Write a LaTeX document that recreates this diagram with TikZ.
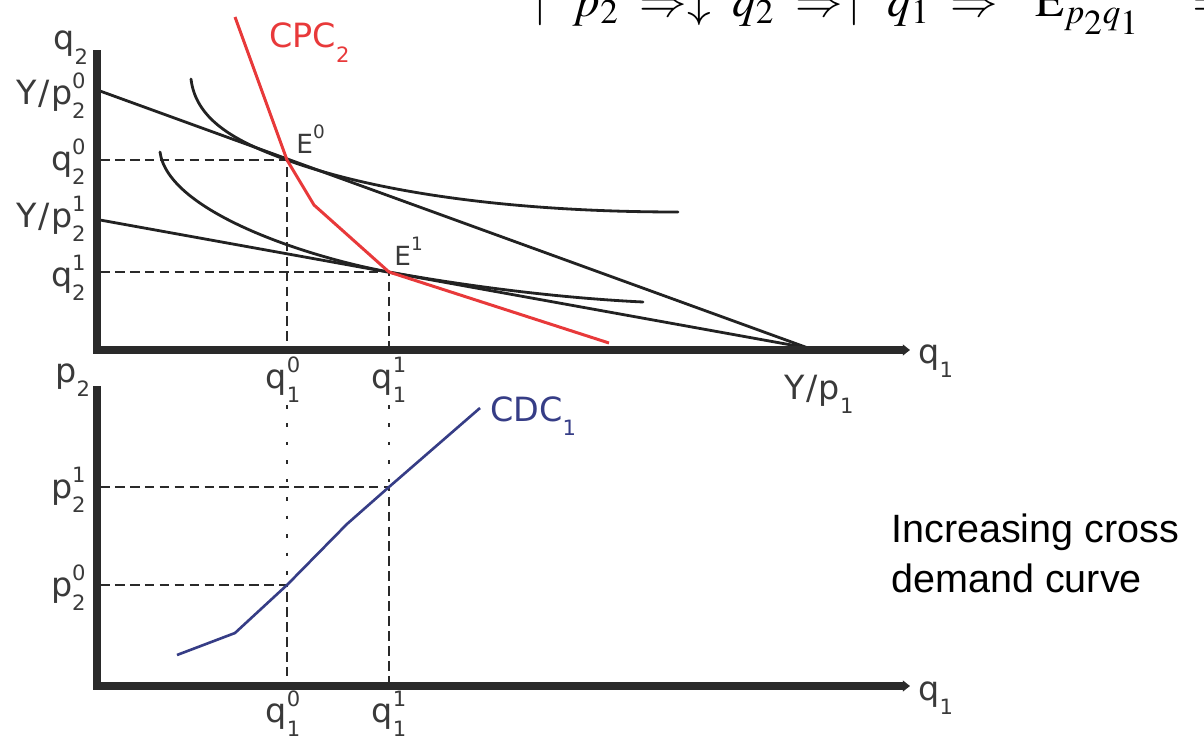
\documentclass[tikz,border=0pt]{standalone}
\usepackage{mathptmx}
\usepackage[no-math]{fontspec}
\setmainfont{DejaVu Sans}
\newfontfamily\arialf{Liberation Sans}
\usetikzlibrary{arrows.meta}
\definecolor{axisc}{HTML}{2A2A2A}
\definecolor{curvec}{HTML}{222222}
\definecolor{labc}{HTML}{3A3A3A}
\definecolor{redc}{HTML}{E8393A}
\definecolor{bluec}{HTML}{363D86}
\newcommand{\scr}[1]{{\fontsize{12}{12}\selectfont #1}}
\newcommand{\lbl}[3]{#1\rlap{\raisebox{0.45em}{\scr{#3}}}\raisebox{-0.42em}{\scr{#2}}}
\newcommand{\lsub}[2]{#1\raisebox{-0.42em}{\scr{#2}}}
\newcommand{\Yp}{Y\kern0.8pt/\kern0.8pt p}
\tikzset{
  axis/.style={draw=axisc, line width=4pt, line join=miter, -{Triangle[length=4pt,width=6pt]}},
  bline/.style={draw=curvec, line width=1.6pt},
  icurve/.style={draw=curvec, line width=1.6pt, line cap=round},
  guide/.style={draw=axisc, line width=0.7pt, dash pattern=on 5.5pt off 3pt},
  dotguide/.style={draw=axisc, line width=0.8pt, dash pattern=on 2pt off 8.5pt},
  cpc/.style={draw=redc, line width=1.7pt, line join=round},
  cdc/.style={draw=bluec, line width=1.5pt, line join=round},
  lab/.style={inner sep=0pt, text=labc, font=\fontsize{19}{19}\selectfont},
  elab/.style={inner sep=0pt, text=labc, font=\fontsize{15}{15}\selectfont},
}
\begin{document}
\begin{tikzpicture}[x=0.02cm, y=-0.02cm]
\useasboundingbox (0,0) rectangle (1204,737);
\clip (0,0) rectangle (1204,737);

% ---------- key points ----------
\coordinate (O1) at (97,350);
\coordinate (Yt) at (97,50);
\coordinate (Xr) at (910,350);
\coordinate (B0) at (100,91);
\coordinate (B1) at (100,220);
\coordinate (Yp1) at (808,348);
\coordinate (E0) at (287,160);
\coordinate (E1) at (389,272);
\coordinate (K) at (314,205);
\coordinate (Rtop) at (235,17);
\coordinate (Rend) at (609,343);
\coordinate (A0) at (100,160);
\coordinate (A1) at (100,272);
\coordinate (F0) at (287,350);
\coordinate (F1) at (389,350);

\coordinate (O2) at (97,686);
\coordinate (Pt) at (97,386);
\coordinate (Xr2) at (910,686);
\coordinate (C0) at (177,655);
\coordinate (C1) at (235,633);
\coordinate (D0) at (287,585);
\coordinate (C2) at (347,524);
\coordinate (D1) at (389,487);
\coordinate (C3) at (480,408);
\coordinate (H0) at (100,585);
\coordinate (H1) at (100,487);
\coordinate (G0) at (287,686);
\coordinate (G1) at (389,686);
\coordinate (T0) at (287,405);
\coordinate (T1) at (389,405);

% ---------- upper panel ----------
\draw[guide] (A0) -- (E0) -- (F0);
\draw[guide] (A1) -- (E1) -- (F1);
\draw[bline] (B0) -- (Yp1);
\draw[bline] (B1) -- (Yp1);
\draw[icurve] (191,79) .. controls (196,122) and (240,143) .. (E0)
              .. controls (380,194) and (520,212) .. (678,212);
\draw[icurve] (160,152) .. controls (168,212) and (309,257.5) .. (E1)
              .. controls (469,286.5) and (560,298) .. (643,302);
\draw[cpc] (Rtop) -- (E0) -- (K) -- (E1) -- (Rend);
\draw[axis] (Yt) -- (O1) -- (Xr);

% ---------- lower panel ----------
\draw[dotguide] (T0) -- (D0);
\draw[dotguide] (T1) -- (D1);
\draw[guide] (H0) -- (D0) -- (G0);
\draw[guide] (H1) -- (D1) -- (G1);
\draw[cdc] (C0) -- (C1) -- (D0) -- (C2) -- (D1) -- (C3);
\draw[axis] (Pt) -- (O2) -- (Xr2);

% ---------- labels ----------
\node[lab, anchor=base west] (lq2) at (53,50) {\lsub{q}{2}};
\node[lab, anchor=base east] (lY0) at (86,104) {\lbl{\Yp}{2}{0}};
\node[lab, anchor=base east] (lq20) at (86,170) {\lbl{q}{2}{0}};
\node[lab, anchor=base east] (lY1) at (86,227) {\lbl{\Yp}{2}{1}};
\node[lab, anchor=base east] (lq21) at (86,286) {\lbl{q}{2}{1}};
\node[elab, anchor=base west] (lE0) at (296,153) {E\raisebox{0.55em}{\fontsize{10.5}{10.5}\selectfont 0}};
\node[elab, anchor=base west] (lE1) at (394,265) {E\raisebox{0.55em}{\fontsize{10.5}{10.5}\selectfont 1}};
\node[lab, anchor=base west, text=redc] (lcpc) at (269,48) {\lsub{CPC}{2}};
\node[lab, anchor=base] (lq10) at (283,388) {\lbl{q}{1}{0}};
\node[lab, anchor=base] (lq11) at (389,388) {\lbl{q}{1}{1}};
\node[lab, anchor=base] (lYp1) at (819,399) {\lsub{\Yp}{1}};
\node[lab, anchor=base west] (lq1a) at (918,363) {\lsub{q}{1}};

\node[lab, anchor=base west] (lp2) at (55,382) {\lsub{p}{2}};
\node[lab, anchor=base east] (lp21) at (86,498) {\lbl{p}{2}{1}};
\node[lab, anchor=base east] (lp20) at (86,596) {\lbl{p}{2}{0}};
\node[lab, anchor=base west, text=bluec] (lcdc) at (490,421) {\lsub{CDC}{1}};
\node[lab, anchor=base] (lq10b) at (283,722) {\lbl{q}{1}{0}};
\node[lab, anchor=base] (lq11b) at (389,722) {\lbl{q}{1}{1}};
\node[lab, anchor=base west] (lq1b) at (918,700) {\lsub{q}{1}};

\node[inner sep=0pt, anchor=base west, align=left, font=\arialf\fontsize{22.5}{28.3}\selectfont] (note) at (891,592) {Increasing cross\\demand curve};

\node[inner sep=0pt, anchor=base west] (formula) at (528,16)
  {\fontsize{27}{27}\selectfont \thickmuskip=8mu
   $\uparrow p_2 \Rightarrow\downarrow q_2 \Rightarrow\uparrow q_1 \Rightarrow \hspace{9pt}\mathrm{E}_{p_{\scriptstyle 2}q_{\scriptstyle 1}}\hspace{18pt} =$};
\end{tikzpicture}
\end{document}
